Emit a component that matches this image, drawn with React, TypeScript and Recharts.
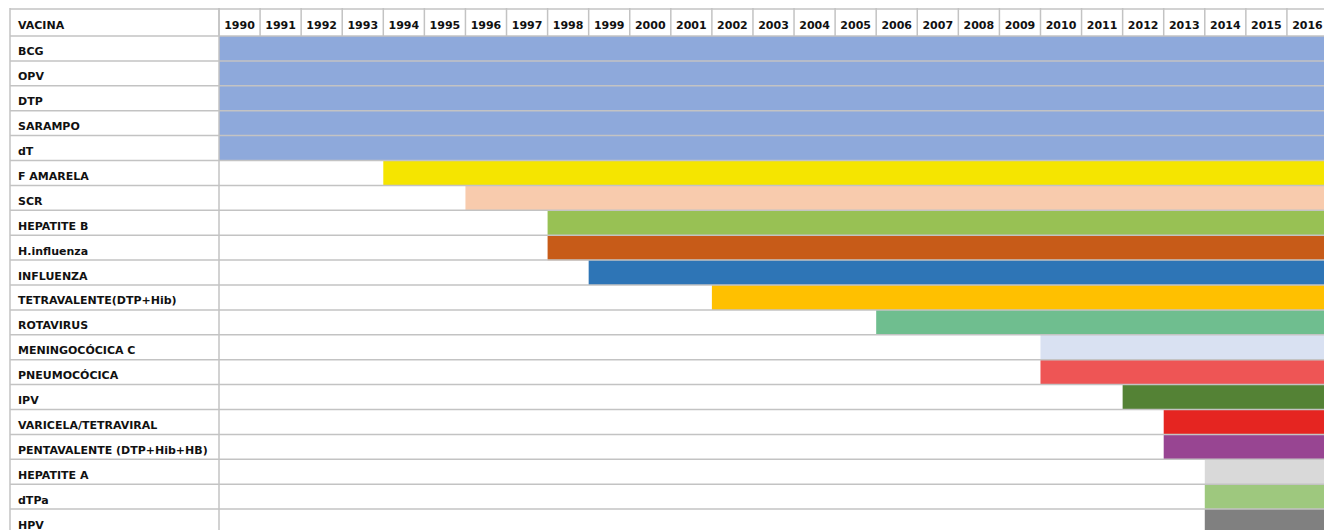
import { BarChart, Bar, XAxis, YAxis, Cell } from 'recharts'

const vaccines = [
  'BCG',
  'OPV',
  'DTP',
  'SARAMPO',
  'dT',
  'F AMARELA',
  'SCR',
  'HEPATITE B',
  'H.influenza',
  'INFLUENZA',
  'TETRAVALENTE(DTP+Hib)',
  'ROTAVIRUS',
  'MENINGOCÓCICA C',
  'PNEUMOCÓCICA',
  'IPV',
  'VARICELA/TETRAVIRAL',
  'PENTAVALENTE (DTP+Hib+HB)',
  'HEPATITE A',
  'dTPa',
  'HPV',
]

const startYears = [1990, 1990, 1990, 1990, 1990, 1994, 1996, 1998, 1998, 1999, 2002, 2006, 2010, 2010, 2012, 2013, 2013, 2014, 2014, 2014]

const barColors = [
  '#8EA9DB', '#8EA9DB', '#8EA9DB', '#8EA9DB', '#8EA9DB',
  '#F5E500', '#F8CBAD', '#98C154', '#C75B18', '#2E75B6',
  '#FFC000', '#6FBE8F', '#D9E1F2', '#EE5555', '#548235',
  '#E52521', '#984592', '#D9D9D9', '#9EC87E', '#808080',
]

const years = [
  1990, 1991, 1992, 1993, 1994, 1995, 1996, 1997, 1998, 1999, 2000, 2001, 2002, 2003,
  2004, 2005, 2006, 2007, 2008, 2009, 2010, 2011, 2012, 2013, 2014, 2015, 2016,
]

const endYear = 2017

const data = vaccines.map((name, i) => ({ name, range: [startYears[i], endYear] }))

// layout
const W = 1330
const H = 530
const LEFT = 2
const LABEL_W = 209
const HEADER_H = 28
const PLOT_W = W - LEFT - 10 - LABEL_W
const PLOT_H = H - HEADER_H - 4
const COL = PLOT_W / years.length
const ROW = PLOT_H / vaccines.length
const LINE = '#C3C3C3'
const FONT = '"DejaVu Sans", sans-serif'

function YearTick({ x, payload }: any) {
  return (
    <g>
      <line x1={x} x2={x} y1={0} y2={HEADER_H} stroke={LINE} strokeWidth={1.5} />
      <text
        x={x + COL / 2}
        y={21}
        textAnchor="middle"
        fontFamily={FONT}
        fontSize={11}
        fontWeight="bold"
        fill="#111"
      >
        {payload.value}
      </text>
    </g>
  )
}

function RowTick({ y, payload }: any) {
  return (
    <g>
      <line x1={LEFT} x2={W} y1={y + ROW / 2} y2={y + ROW / 2} stroke={LINE} strokeWidth={1.5} />
      <text x={LEFT + 8} y={y + 7} fontFamily={FONT} fontSize={11} fontWeight="bold" fill="#111">
        {payload.value}
      </text>
    </g>
  )
}

function HeaderFrame() {
  return (
    <g>
      <line x1={LEFT} x2={W} y1={1} y2={1} stroke={LINE} strokeWidth={1.5} />
      <line x1={LEFT} x2={W} y1={HEADER_H} y2={HEADER_H} stroke={LINE} strokeWidth={1.5} />
      <line x1={LEFT} x2={LEFT} y1={0} y2={H} stroke={LINE} strokeWidth={1.5} />
      <line x1={LEFT + LABEL_W} x2={LEFT + LABEL_W} y1={0} y2={H} stroke={LINE} strokeWidth={1.5} />
      <text x={LEFT + 8} y={21} fontFamily={FONT} fontSize={11} fontWeight="bold" fill="#111">
        VACINA
      </text>
    </g>
  )
}

export default function App() {
  return (
    <div
      style={{
        position: 'fixed',
        top: 8,
        left: 8,
        width: 1316,
        height: 522,
        overflow: 'hidden',
        background: '#fff',
      }}
    >
      <BarChart
        layout="vertical"
        width={W}
        height={H}
        data={data}
        margin={{ top: 0, right: 10, left: LEFT, bottom: 4 }}
        barCategoryGap={0}
      >
        <XAxis
          type="number"
          orientation="top"
          domain={[1990, endYear]}
          ticks={years}
          interval={0}
          height={HEADER_H}
          axisLine={false}
          tickLine={false}
          tick={<YearTick />}
          allowDataOverflow
        />
        <YAxis
          type="category"
          dataKey="name"
          width={LABEL_W}
          interval={0}
          axisLine={false}
          tickLine={false}
          tick={<RowTick />}
          label={<HeaderFrame />}
        />
        <Bar dataKey="range" isAnimationActive={false}>
          {data.map((d, i) => (
            <Cell key={d.name} fill={barColors[i]} />
          ))}
        </Bar>
      </BarChart>
    </div>
  )
}
